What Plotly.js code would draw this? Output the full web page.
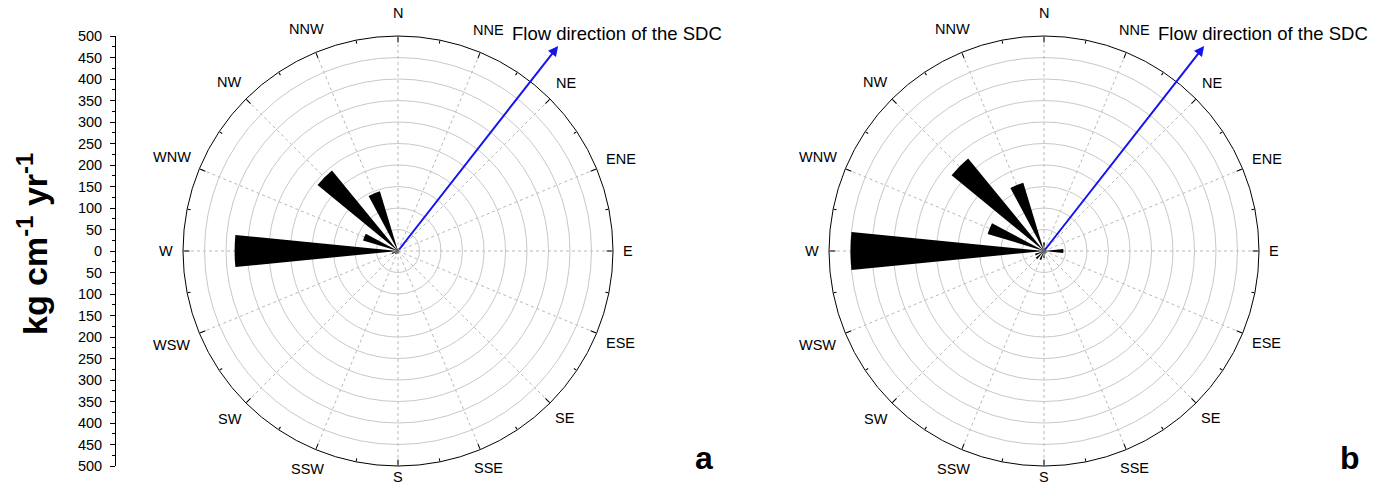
<!DOCTYPE html>
<html><head><meta charset="utf-8">
<script src="https://cdn.plot.ly/plotly-3.0.1.min.js"></script>
<style>body{margin:0;background:#fff;}#chart{width:1384px;height:488px;}</style>
</head><body><div id="chart"></div>
<script>
// ---- data ----
const directions = ['N','NNE','NE','ENE','E','ESE','SE','SSE','S','SSW','SW','WSW','W','WNW','NW','NNW'];
const directionAngles = [0,22.5,45,67.5,90,112.5,135,157.5,180,202.5,225,247.5,270,292.5,315,337.5];
const minorAngles = [11.25,33.75,56.25,78.75,101.25,123.75,146.25,168.75,191.25,213.75,236.25,258.75,281.25,303.75,326.25,348.75];
const fluxA = [5,3,2,2,3,2,2,3,6,8,10,15,380,85,242,145];
const fluxB = [20,8,5,5,45,8,6,8,16,22,25,22,450,137,278,166];
const panelLabels = ['a','b'];
const flowLabel = 'Flow direction of the SDC';
const flowDirection = 38;      // degrees clockwise from north
const flowArrowLength = 605;   // in radial units
const radialRings = [50,100,150,200,250,300,350,400,450,500];
const scaleTicks = [-500,-450,-400,-350,-300,-250,-200,-150,-100,-50,0,50,100,150,200,250,300,350,400,450,500];
const scaleTickText = ['500','450','400','350','300','250','200','150','100','50','0','50','100','150','200','250','300','350','400','450','500'];
const yTitle = 'kg cm<sup>-1</sup> yr<sup>-1</sup>';

// ---- geometry ----
const W = 1384, H = 488, R = 215;
const centers = [[398,251],[1044,251]];
const rMax = 500;
const FONT = '"Liberation Sans", Arial, sans-serif';
const DIR_FS = 14.5;
const charW = {N:0.722, E:0.667, S:0.667, W:0.944};

function dom(c){
  return {x:[(c[0]-R)/W,(c[0]+R)/W], y:[1-(c[1]+R)/H, 1-(c[1]-R)/H]};
}

const layout = {
  width: W, height: H,
  margin: {l:0,r:0,t:0,b:0},
  paper_bgcolor: '#fff',
  showlegend: false,
  font: {family: FONT, color:'#000'},
  annotations: [],
  xaxis: {domain:[116/W, 120/W], visible:false, range:[0,1], fixedrange:true},
  yaxis: {
    domain: dom(centers[0]).y, range:[-500,500], anchor:'x', side:'left',
    showline:true, linecolor:'#000', linewidth:1, mirror:false,
    ticks:'outside', ticklen:5, tickcolor:'#000', tickwidth:1,
    tickmode:'array', tickvals: scaleTicks, ticktext: scaleTickText,
    tickfont:{size:14.5, family:FONT, color:'#000'}, ticklabelstandoff:5,
    showgrid:false, zeroline:false,
    minor:{ticks:'outside', ticklen:3, dtick:25, tick0:0, tickcolor:'#000', showgrid:false}
  }
};

const traces = [];
traces.push({type:'scatter', x:[], y:[], xaxis:'x', yaxis:'y', hoverinfo:'skip'});

const fluxes = [fluxA, fluxB];
centers.forEach((c, i) => {
  const d = dom(c);
  const n = i*3;
  const pMain = 'polar' + (n===0 ? '' : (n+1));
  const pMajor = 'polar' + (n+2);
  const pMinor = 'polar' + (n+3);
  layout[pMain] = {
    domain: d, bgcolor:'rgba(0,0,0,0)',
    angularaxis: {
      type:'linear', rotation:90, direction:'clockwise',
      tickmode:'array', tickvals: directionAngles, ticktext: directions,
      ticks:'', showticklabels:false,
      showline:true, linecolor:'#000', linewidth:1,
      showgrid:true, gridcolor:'#b8b8b8', gridwidth:1, griddash:'3px,3px'
    },
    radialaxis: {
      range:[0,rMax], tickmode:'array', tickvals: radialRings,
      showticklabels:false, ticks:'', showline:false,
      showgrid:true, gridcolor:'#c8c8c8', gridwidth:1
    }
  };
  const tickPolar = (vals, len) => ({
    domain: d, bgcolor:'rgba(0,0,0,0)',
    angularaxis: {
      type:'linear', rotation:90, direction:'clockwise',
      tickmode:'array', tickvals: vals, ticks:'inside', ticklen:len,
      tickcolor:'#000', tickwidth:1, showticklabels:false,
      showgrid:false, showline:false
    },
    radialaxis: {range:[0,rMax], visible:false}
  });
  layout[pMajor] = tickPolar(directionAngles, 6);
  layout[pMinor] = tickPolar(minorAngles, 3);

  traces.push({
    type:'barpolar', subplot: pMain,
    r: fluxes[i], theta: directionAngles, width: 11.25,
    marker:{color:'#000', line:{width:0}}, hoverinfo:'r+theta'
  });
  traces.push({type:'scatterpolar', subplot:pMajor, r:[], theta:[], hoverinfo:'skip'});
  traces.push({type:'scatterpolar', subplot:pMinor, r:[], theta:[], hoverinfo:'skip'});

  // compass labels placed just outside the rim
  directions.forEach((lab, k) => {
    const th = directionAngles[k]*Math.PI/180;
    const sx = Math.sin(th), cy = Math.cos(th);
    let w = 0; for (const ch of lab) w += (charW[ch]||0.7)*DIR_FS;
    const hh = 7;
    const dist = R + 10 + Math.abs(sx)*w/2 + Math.abs(cy)*hh;
    const px = c[0] + dist*sx;
    const py = c[1] - dist*cy - 6*Math.pow(cy,16);
    layout.annotations.push({
      xref:'paper', yref:'paper', x:px/W, y:1-py/H,
      xanchor:'center', yanchor:'middle', showarrow:false,
      text: lab, font:{size:DIR_FS, family:FONT, color:'#000'}
    });
  });

  // flow-direction arrow
  const s = R / rMax;
  const th = flowDirection * Math.PI/180;
  const hx = c[0] + flowArrowLength*s*Math.sin(th);
  const hy = c[1] - flowArrowLength*s*Math.cos(th);
  layout.annotations.push({
    xref:'paper', yref:'paper', x: hx/W, y: 1-hy/H,
    ax: c[0]-hx, ay: c[1]-hy, axref:'pixel', ayref:'pixel',
    text:'', showarrow:true, arrowhead:2, arrowsize:1, arrowwidth:2,
    arrowcolor:'#1414f0', standoff:0, startstandoff:0
  });
  layout.annotations.push({
    xref:'paper', yref:'paper', x:(c[0]+112)/W, y:1-33/H,
    xanchor:'left', yanchor:'middle', showarrow:false,
    text: flowLabel, font:{size:18.5, family:FONT, color:'#000'}
  });
  layout.annotations.push({
    xref:'paper', yref:'paper', x:(c[0]+306)/W, y:1-458/H,
    xanchor:'center', yanchor:'middle', showarrow:false,
    text:'<b>'+panelLabels[i]+'</b>', font:{size:32, family:FONT, color:'#000'}
  });
});

layout.annotations.push({
  xref:'paper', yref:'paper', x:32/W, y:1-244/H,
  xanchor:'center', yanchor:'middle', showarrow:false, textangle:-90,
  text:'<b>'+yTitle+'</b>', font:{size:34, family:FONT, color:'#000'}
});

Plotly.newPlot('chart', traces, layout, {displayModeBar:false, staticPlot:true});
</script>
</body></html>
